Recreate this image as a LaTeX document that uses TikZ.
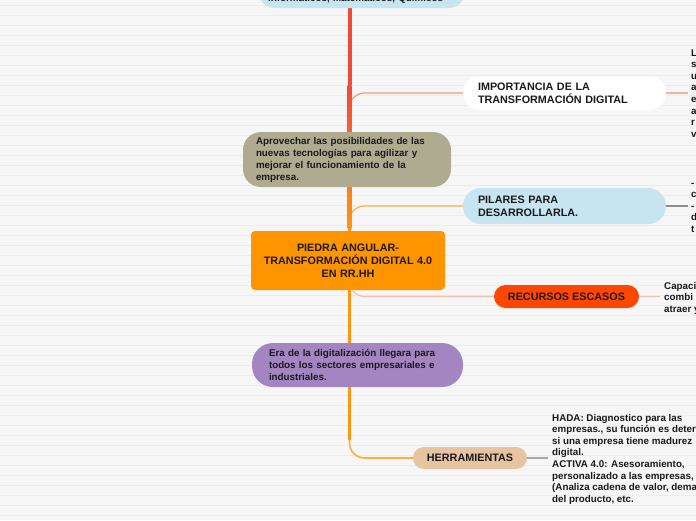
\documentclass[tikz,border=0pt]{standalone}
\usepackage{fontspec}
\setmainfont{Liberation Sans}
\pgfdeclarelayer{back}
\pgfsetlayers{back,main}
\definecolor{bg}{HTML}{F6F6F6}
\definecolor{bgl}{HTML}{ECECEC}
\definecolor{txt}{HTML}{1A1A1A}
\definecolor{lblue}{HTML}{C6E5F1}
\definecolor{olive}{HTML}{AEAB90}
\definecolor{purp}{HTML}{A285C1}
\definecolor{orng}{HTML}{FE9400}
\definecolor{redo}{HTML}{FE4701}
\definecolor{tan}{HTML}{E6C3A1}
\definecolor{lred}{HTML}{F04A3C}
\definecolor{trunkor}{HTML}{FD9512}
\definecolor{impc}{HTML}{F09A78}
\definecolor{imprc}{HTML}{F2B2A0}
\definecolor{pilc}{HTML}{F6B54A}
\definecolor{recc}{HTML}{F6BCAE}
\definecolor{herc}{HTML}{F9B040}
\definecolor{grayc}{HTML}{8C8C8C}
\definecolor{grayl}{HTML}{A8A8A8}
\tikzset{
  hfont/.style={font=\fontsize{10.8}{13}\selectfont\bfseries},
  sfont/.style={font=\fontsize{9.8}{12}\selectfont\bfseries},
  rfont/.style={font=\fontsize{9.8}{11.6}\selectfont\bfseries},
  box/.style={inner ysep=0pt, text=txt},
  conn/.style={line width=1.2pt, line cap=round, rounded corners=15},
  sideconn/.style={line width=1.1pt},
  sidetext/.style={rfont, text=txt, align=left, inner sep=0pt, anchor=base west}
}
\begin{document}
\begin{tikzpicture}[x=1pt,y=-1pt]
\useasboundingbox (0,0) rectangle (696,520);
\clip (0,0) rectangle (696,520);

% nodes
\node[box, sfont, fill=lblue, rounded corners=17, anchor=base west, text height=32pt, text depth=3pt,
      inner xsep=10pt, inner ysep=4pt, text width=187pt, align=left] (top) at (258,1)
      {Informáticos, Matemáticos, Químicos};
\node[box, hfont, fill=orng, rounded corners=4, minimum width=194pt, minimum height=59pt,
      text width=184pt, inner xsep=5pt, align=center] (main) at (348,260.5)
      {PIEDRA ANGULAR-\\TRANSFORMACIÓN DIGITAL 4.0\\EN RR.HH};
\node[box, sfont, fill=olive, rounded corners=18, minimum width=208pt, minimum height=55pt,
      text width=182pt, inner xsep=13pt, align=left] (apro) at (347,159.5)
      {Aprovechar las posibilidades de las\\nuevas tecnologías para agilizar y\\mejorar el funcionamiento de la\\empresa.};
\node[box, hfont, fill=white, rounded corners=17, minimum width=203pt, minimum height=34pt,
      text width=173pt, inner xsep=15pt, align=left] (imp) at (564.5,93)
      {IMPORTANCIA DE LA\\TRANSFORMACIÓN DIGITAL};
\node[box, hfont, fill=lblue, rounded corners=18, minimum width=203pt, minimum height=36pt,
      text width=173pt, inner xsep=15pt, align=left] (pil) at (564.5,206)
      {PILARES PARA\\DESARROLLARLA.};
\node[box, hfont, fill=redo, rounded corners=11.5, minimum width=145pt, minimum height=23pt,
      inner xsep=0pt] (rec) at (566.5,296.5) {RECURSOS ESCASOS};
\node[box, sfont, fill=purp, rounded corners=21, minimum width=211pt, minimum height=44pt,
      text width=177pt, inner xsep=17pt, align=left] (era) at (357.5,365)
      {Era de la digitalización llegara para\\todos los sectores empresariales e\\industriales.};
\node[box, hfont, fill=tan, rounded corners=11, minimum width=114pt, minimum height=22pt,
      inner xsep=0pt] (her) at (470,458) {HERRAMIENTAS};

% side texts (cut by the edge, as in the reference); anchored at last baseline
\node[sidetext] (impT) at (691,137.2) {L\\s\\u\\a\\e\\a\\r\\v};
\node[sidetext] (pilT) at (691,232.4) {-\\c\\-\\d\\t};
\node[sidetext] (recT) at (664,312.2) {Capaci\\combi\\atraer y};
\node[sidetext] (herT) at (552,502.2) {HADA: Diagnostico para las\\empresas., su función es deter\\si una empresa tiene madurez\\digital.\\ACTIVA 4.0: Asesoramiento,\\personalizado a las empresas,\\(Analiza cadena de valor, dema\\del producto, etc.};

% coordinates on the trunk
\coordinate (impE) at (688,93);
\coordinate (pilE) at (688,206);
\coordinate (recE) at (660,296.5);
\coordinate (herE) at (548,458);

\begin{pgfonlayer}{back}
  % background
  \fill[bg] (0,0) rectangle (696,520);
  \foreach \yy in {5,15,...,515} \draw[bgl, line width=0.8pt] (0,\yy) -- (696,\yy);
  % branch connectors
  \draw[conn, impc] (349.5,118) -- (349.5,93) -- (imp.west);
  \draw[conn, pilc] (349.5,228) -- (349.5,206) -- (pil.west);
  \draw[conn, recc] (349.5,276) -- (349.5,296.5) -- (rec.west);
  \draw[conn, herc, line width=1.6pt] (349.5,430) -- (349.5,458) -- (her.west);
  % trunk
  \fill[lred] (347.5,0) rectangle (351.5,85);
  \shade[top color=lred, bottom color=trunkor] (347.5,85) rectangle (351.5,228);
  \fill[trunkor] (347.7,228) rectangle (351.3,440);
  % right-hand connectors
  \draw[sideconn, imprc] (imp.east) -- (impE);
  \draw[sideconn, grayc] (pil.east) -- (pilE);
  \draw[sideconn, recc] (rec.east) -- (recE);
  \draw[sideconn, grayl] (her.east) -- (herE);
\end{pgfonlayer}
\end{tikzpicture}
\end{document}
